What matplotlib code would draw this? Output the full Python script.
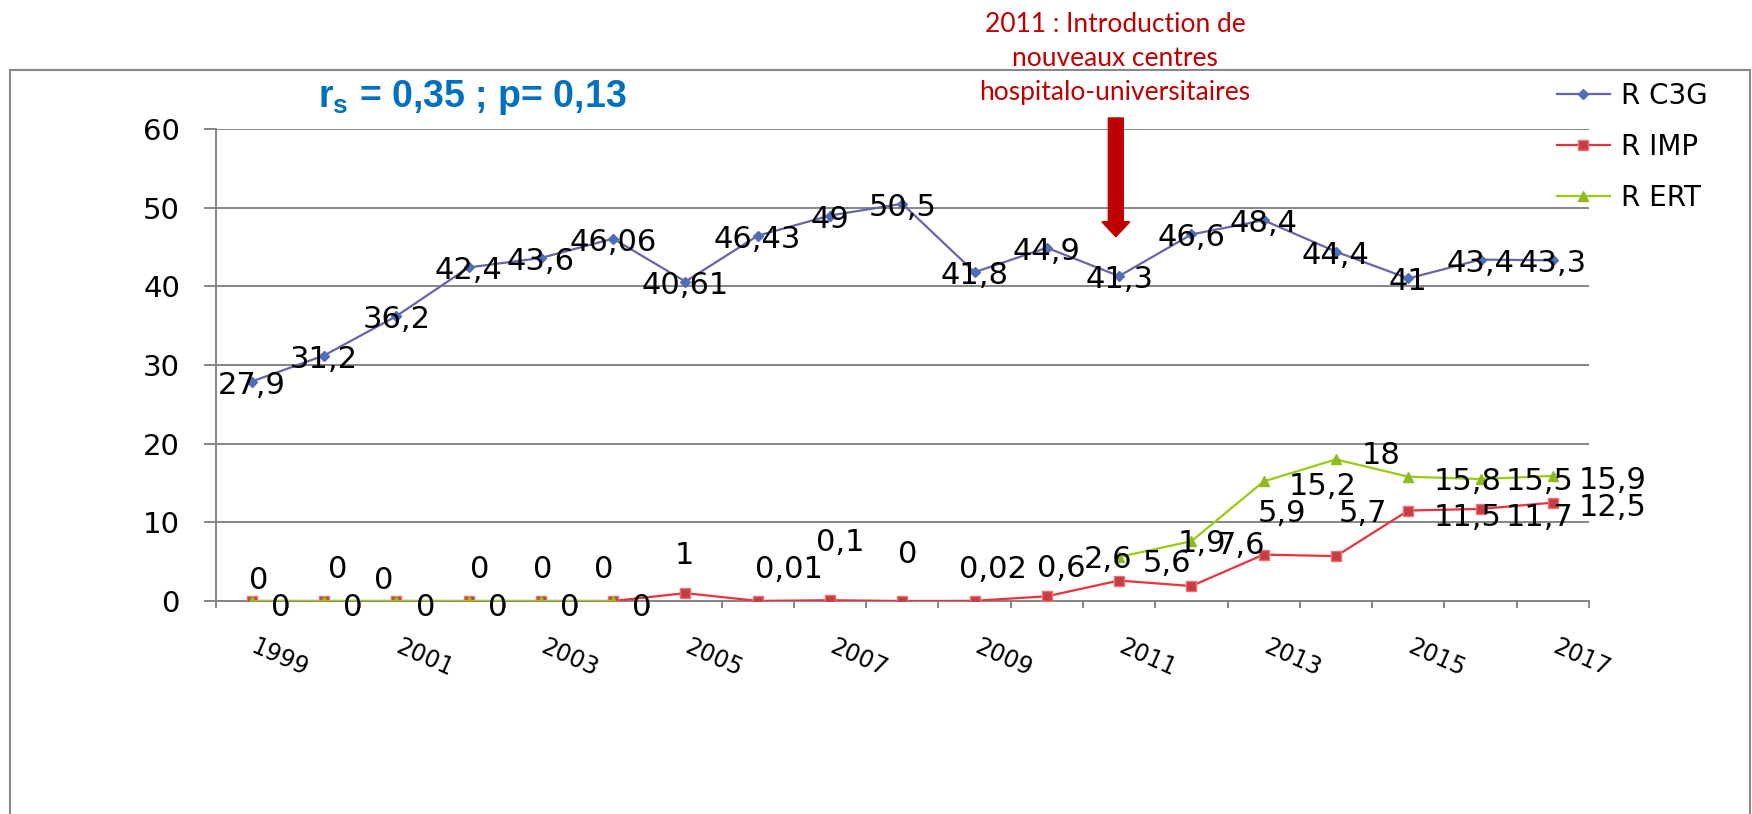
import numpy as np
import matplotlib
matplotlib.use("Agg")
import matplotlib.pyplot as plt
from matplotlib import patches
from matplotlib.transforms import ScaledTranslation

years = list(range(1999, 2018))
r_c3g = [27.9, 31.2, 36.2, 42.4, 43.6, 46.06, 40.61, 46.43, 49, 50.5,
         41.8, 44.9, 41.3, 46.6, 48.4, 44.4, 41, 43.4, 43.3]
r_imp = [0, 0, 0, 0, 0, 0, 1, 0.01, 0.1, 0, 0.02, 0.6,
         2.6, 1.9, 5.9, 5.7, 11.5, 11.7, 12.5]
r_ert = [0, 0, 0, 0, 0, 0, None, None, None, None, None, None,
         5.6, 7.6, 15.2, 18, 15.8, 15.5, 15.9]

title_txt = "$\\mathbf{r_s}$ = 0,35 ; p= 0,13"
note_lines = ["2011 : Introduction de", "nouveaux centres",
              "hospitalo-universitaires"]

# label offsets (pixels, right / down) relative to the point
c3g_off = [(0, 1)] * 19
imp_off = [(7, -23), (14, -34), (-13, -23), (11, -34), (2, -34), (-9, -34),
           (-1, -40), (31, -34), (10, -60), (5, -49), (18, -34), (14, -30),
           (-11, -24), (11, -45), (18, -44), (27, -45), (59, 4), (59, 6), (60, 2)]
ert_off = [(29, 4)] * 6 + [None] * 6 + [(48, 4), (49, 2), (59, 3), (45, -6),
                                         (59, 2), (59, 0), (60, 2)]

plt.rcParams['font.family'] = ['DejaVu Sans']
plt.rcParams['mathtext.fontset'] = 'custom'
plt.rcParams['mathtext.bf'] = 'Liberation Sans:bold'
plt.rcParams['mathtext.rm'] = 'Liberation Sans'

W, H = 1752, 814
grid = '#868686'
fig = plt.figure(figsize=(W / 100, H / 100), dpi=100)
ax = fig.add_axes([215.5 / W, 213 / H, (1589 - 215.5) / W, (601 - 129) / H])

x = np.arange(len(years))
ert = np.array([np.nan if v is None else v for v in r_ert], dtype=float)

ax.plot(x, r_c3g, color='#6466A8', lw=1.6, marker='D', ms=5,
        mfc='#4F6EB8', mec='#4F6EB8', label='R C3G', zorder=3)
ax.plot(x, r_imp, color='#E8323C', lw=1.6, marker='s', ms=7,
        mfc='#C43C46', mec='#F07070', label='R IMP', zorder=3)
ax.plot(x, ert, color='#99CC11', lw=1.6, marker='^', ms=7,
        mfc='#8DBB1E', mec='#8DBB1E', label='R ERT', zorder=4)

def fmt(v):
    return '{:g}'.format(v).replace('.', ',')

def add_labels(vals, offs):
    for i, (v, o) in enumerate(zip(vals, offs)):
        if v is None or o is None:
            continue
        ax.annotate(fmt(v), (i, v), xytext=(o[0], -o[1] - 11),
                    textcoords='offset pixels', ha='center', va='baseline',
                    fontsize=22, color='black', zorder=6, annotation_clip=False)

add_labels(r_c3g, c3g_off)
add_labels(r_imp, imp_off)
add_labels(r_ert, ert_off)

ax.set_xlim(-0.5, len(years) - 0.5)
ax.set_ylim(0, 60)
ax.set_yticks(range(0, 61, 10))
ax.yaxis.grid(True, color=grid, lw=1.4)
ax.set_axisbelow(True)
for s in ['top', 'right']:
    ax.spines[s].set_visible(False)
for s in ['left', 'bottom']:
    ax.spines[s].set_color(grid)
    ax.spines[s].set_linewidth(1.4)
ax.tick_params(axis='y', direction='out', length=8.6, width=1.4, color=grid,
               labelsize=21, pad=17)

ax.set_xticks(x[::2])
ax.set_xticklabels([str(y) for y in years[::2]], rotation=-24, ha='left',
                   va='top', rotation_mode='anchor')
ax.set_xticks(np.arange(-0.5, len(years), 1), minor=True)
ax.tick_params(axis='x', which='major', length=0, labelsize=17, pad=24)
ax.tick_params(axis='x', which='minor', direction='out', length=5, width=1.4,
               color=grid)
for lab in ax.get_xticklabels():
    lab.set_transform(lab.get_transform() + ScaledTranslation(0.06, 0, fig.dpi_scale_trans))

# arrow for 2011
arr = patches.FancyArrow(11.955, 61.4, 0, -15.1, width=0.2075, head_width=0.387,
                         head_length=1.91, length_includes_head=True,
                         color='#C00000', clip_on=False, zorder=5)
ax.add_patch(arr)

fig.legend(loc='upper left', bbox_to_anchor=(1557 / W, 1 - 82 / H),
           frameon=False, fontsize=20, handlelength=1.9, handletextpad=0.4,
           labelspacing=0.83, borderpad=0, borderaxespad=0, numpoints=1)

fig.text(472 / W, 1 - 107 / H, title_txt, ha='center', va='baseline',
         fontsize=27, fontweight='bold', color='#0070C0', family='Liberation Sans')

for k, line in enumerate(note_lines):
    fig.text(1115 / W, 1 - (32 + 34 * k) / H, line, ha='center', va='baseline',
             fontsize=19, color='#C00000', family='Lato')

frame = patches.Rectangle((10 / W, -0.1), (1750 - 10) / W, 1.1 - 70 / H,
                          transform=fig.transFigure, fill=False,
                          edgecolor='#888888', lw=1.5)
fig.add_artist(frame)

fig.savefig('out.png', dpi=100)
